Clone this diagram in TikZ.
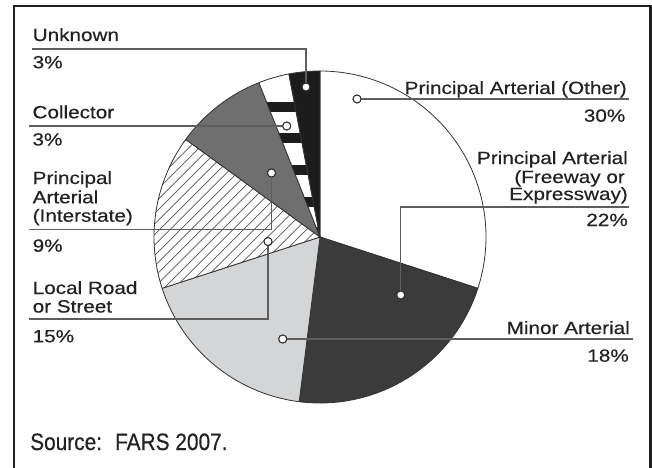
\documentclass[tikz,border=0pt]{standalone}
\usepackage{fontspec}
\setmainfont{Liberation Sans}
\newfontfamily\lblfont{Liberation Sans}[FakeStretch=1.17,FakeBold=0.4]
\newfontfamily\srcfont{Liberation Sans}[FakeStretch=0.88,FakeBold=0.4]
\definecolor{txtc}{HTML}{222222}
\definecolor{darkc}{HTML}{3B3B3B}
\definecolor{lightc}{HTML}{D3D5D7}
\definecolor{midc}{HTML}{6F6F6F}
\definecolor{blkc}{HTML}{1C1C1C}
\definecolor{hatchc}{HTML}{555555}
\definecolor{leadc}{HTML}{5E5E5E}
\definecolor{edgec}{HTML}{333333}
\begin{document}
\begin{tikzpicture}[x=1pt,y=1pt,
  lbl/.style={inner sep=0pt, text=txtc, font=\lblfont\fontsize{17.7}{19}\selectfont},
  lw/.style={lbl, anchor=base west},
  le/.style={lbl, anchor=base east},
  pin/.style={circle, draw=black!85, fill=white, line width=0.9pt, minimum size=8pt, inner sep=0pt},
  leader/.style={draw=leadc, line width=1.3pt},
  slice/.style={draw=edgec, line width=0.8pt, line join=round},
  frame/.style={draw=black!88, line width=2.3pt},
]
\useasboundingbox (0,0) rectangle (652,467);
\fill[white] (0,0) rectangle (652,467);

% outer frame (open at the bottom)
\draw[frame] (13.8,-5) -- (13.8,461.2) -- (650.5,461.2) -- (650.5,-5);

% pie chart, centre (320,230), radius 166
\begin{scope}[shift={(320,230)}]
  % Principal Arterial (Other) 30%
  \filldraw[slice, fill=white] (0,0) -- (90:166) arc[start angle=90, end angle=-18, radius=166] -- cycle;
  % Principal Arterial (Freeway or Expressway) 22%
  \filldraw[slice, fill=darkc] (0,0) -- (-18:166) arc[start angle=-18, end angle=-97.2, radius=166] -- cycle;
  % Minor Arterial 18%
  \filldraw[slice, fill=lightc] (0,0) -- (-97.2:166) arc[start angle=-97.2, end angle=-162, radius=166] -- cycle;
  % Local Road or Street 15% (hatched)
  \begin{scope}
    \clip (0,0) -- (198:166) arc[start angle=198, end angle=144, radius=166] -- cycle;
    \fill[white] (-170,-170) rectangle (170,170);
    \foreach \k in {-30,...,8}
      \draw[hatchc, line width=0.7pt] (\k*10.5-200,-200) -- ++(400,400);
  \end{scope}
  \draw[slice] (0,0) -- (198:166) arc[start angle=198, end angle=144, radius=166] -- cycle;
  % Principal Arterial (Interstate) 9%
  \filldraw[slice, fill=midc] (0,0) -- (144:166) arc[start angle=144, end angle=111.6, radius=166] -- cycle;
  % Collector 3% (black with white bands)
  \begin{scope}
    \clip (0,0) -- (111.6:166) arc[start angle=111.6, end angle=100.8, radius=166] -- cycle;
    \fill[blkc] (-100,0) rectangle (100,170);
    \fill[white] (-100,135) rectangle (100,170);
    \fill[white] (-100,104) rectangle (100,125);
    \fill[white] (-100,72) rectangle (100,94);
    \fill[white] (-100,40) rectangle (100,62);
    \fill[white] (-100,10) rectangle (100,30);
  \end{scope}
  \draw[slice] (0,0) -- (111.6:166) arc[start angle=111.6, end angle=100.8, radius=166] -- cycle;
  % Unknown 3%
  \filldraw[slice, fill=blkc] (0,0) -- (100.8:166) arc[start angle=100.8, end angle=90, radius=166] -- cycle;
\end{scope}

% leader markers
\node[pin] (uk-pin) at (306,380) {};
\node[pin] (co-pin) at (286.7,341) {};
\node[pin] (in-pin) at (271.5,294) {};
\node[pin] (lr-pin) at (268,225.5) {};
\node[pin] (po-pin) at (357,368) {};
\node[pin] (fw-pin) at (400.7,172) {};
\node[pin] (ma-pin) at (282.7,128) {};

% leader start points
\coordinate (uk-a) at (32,418);
\coordinate (co-a) at (29,341);
\coordinate (in-a) at (29,237.5);
\coordinate (lr-a) at (29,148);
\coordinate (po-a) at (629,368);
\coordinate (fw-a) at (629,260);
\coordinate (ma-a) at (633,128);

% leaders
\draw[leader] (uk-a) -| (uk-pin);
\draw[leader] (co-a) -- (co-pin);
\draw[leader] (in-a) -| (in-pin);
\draw[leader] (lr-a) -| (lr-pin);
\draw[leader] (po-a) -- (po-pin);
\draw[leader] (fw-a) -| (fw-pin);
\draw[leader] (ma-a) -- (ma-pin);

% redraw markers above the leaders
\node[pin] at (uk-pin) {};
\node[pin] at (co-pin) {};
\node[pin] at (in-pin) {};
\node[pin] at (lr-pin) {};
\node[pin] at (po-pin) {};
\node[pin] at (fw-pin) {};
\node[pin] at (ma-pin) {};

% left labels
\node[lw] (uk1) at (32.5,426) {Unknown};
\node[lw] (uk2) at (32.5,398.7) {3\%};
\node[lw] (co1) at (32.3,348.7) {Collector};
\node[lw] (co2) at (32.3,321.5) {3\%};
\node[lw] (in1) at (32.5,283) {Principal};
\node[lw] (in2) at (32.5,263.7) {Arterial};
\node[lw] (in3) at (32.5,245.3) {(Interstate)};
\node[lw] (in4) at (32.5,215.3) {9\%};
\node[lw] (lr1) at (32.5,173) {Local Road};
\node[lw] (lr2) at (32.5,154.5) {or Street};
\node[lw] (lr3) at (32.5,124.7) {15\%};

% right labels
\node[le] (po1) at (627,373) {Principal Arterial (Other)};
\node[le] (po2) at (625.5,345.3) {30\%};
\node[le] (fw1) at (628,303) {Principal Arterial};
\node[le] (fw2) at (625,284) {(Freeway or};
\node[le] (fw3) at (628,267) {Expressway)};
\node[le] (fw4) at (628,241) {22\%};
\node[le] (ma1) at (630,133) {Minor Arterial};
\node[le] (ma2) at (629,105.3) {18\%};

% source note
\node[inner sep=0pt, anchor=base west, text=txtc, font=\srcfont\fontsize{23.7}{26}\selectfont] (src) at (30,17) {Source:\hspace{0.55em}FARS 2007.};
\end{tikzpicture}
\end{document}
